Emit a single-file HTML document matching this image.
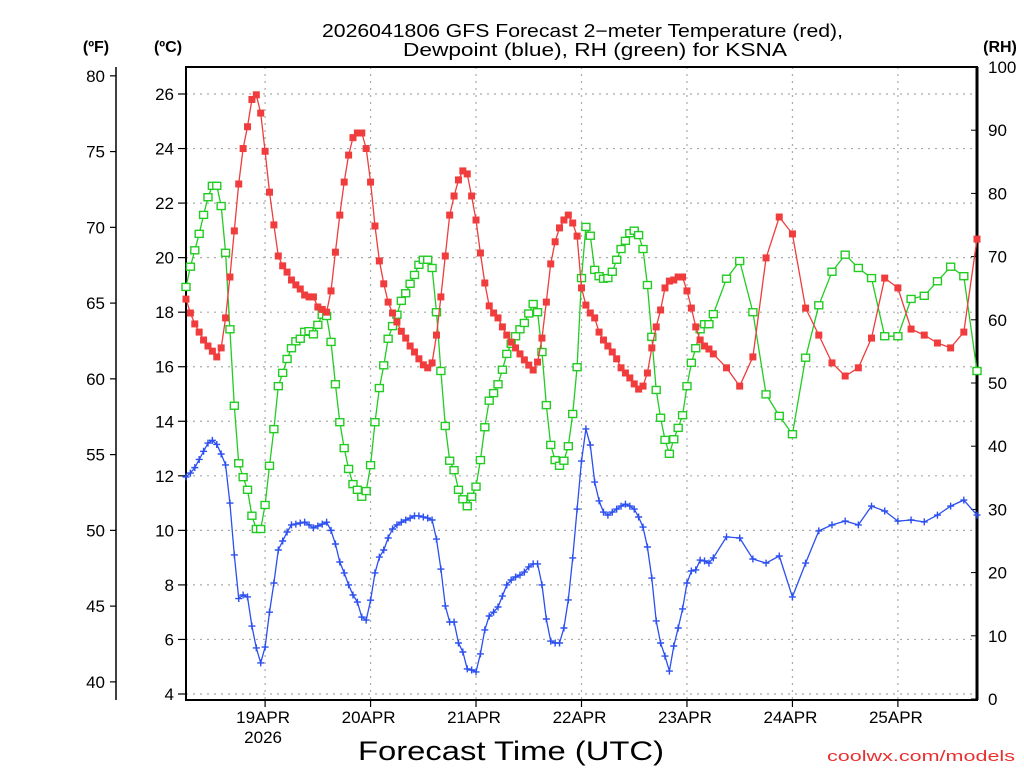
<!DOCTYPE html>
<html><head><meta charset="utf-8"><style>
html,body{margin:0;padding:0;background:#fff;}
svg{display:block;font-family:"Liberation Sans",sans-serif;}
</style></head><body>
<svg id="chart" width="1024" height="768" viewBox="0 0 1024 768" xmlns="http://www.w3.org/2000/svg">
<rect width="1024" height="768" fill="#fff"/>
<text x="322" y="37" font-size="18" textLength="521" lengthAdjust="spacingAndGlyphs">2026041806 GFS Forecast 2−meter Temperature (red),</text>
<text x="403" y="56" font-size="18" textLength="384" lengthAdjust="spacingAndGlyphs">Dewpoint (blue), RH (green) for KSNA</text>
<text x="96" y="52" font-size="16" font-weight="bold" text-anchor="middle">(ºF)</text>
<text x="168" y="52" font-size="16" font-weight="bold" text-anchor="middle">(ºC)</text>
<text x="1000" y="52" font-size="16" font-weight="bold" text-anchor="middle">(RH)</text>
<g id="grid"></g>
<g id="axes"></g>
<g id="series"></g>
<text x="358" y="760" font-size="27" textLength="306" lengthAdjust="spacingAndGlyphs">Forecast Time (UTC)</text>
<text x="827" y="761" font-size="15" fill="#e83030" textLength="188" lengthAdjust="spacingAndGlyphs">coolwx.com/models</text>
</svg>
<script>
const tempHourly = [18.48,17.97,17.57,17.27,16.98,16.76,16.57,16.36,16.69,17.79,19.29,20.98,22.7,24.0,24.8,25.8,25.97,25.3,23.9,22.4,21.2,20.06,19.7,19.47,19.18,19.0,18.85,18.63,18.56,18.56,18.19,18.1,18.0,18.78,20.2,21.56,22.77,23.76,24.4,24.57,24.57,24.0,22.77,21.16,19.88,19.04,18.37,17.97,17.64,17.3,17.05,16.76,16.54,16.29,16.07,15.96,16.14,17.16,18.56,20.06,21.56,22.26,22.85,23.18,23.07,22.26,21.38,20.17,19.07,18.23,17.97,17.79,17.46,17.16,16.9,16.69,16.47,16.25,16.06,15.88,16.17,17.05,18.37,19.77,20.58,21.09,21.38,21.56,21.27,20.79,18.89,18.26,17.97,17.79,17.27,16.98,16.76,16.54,16.29,15.96,15.77,15.59,15.37,15.18,15.29,15.77,16.69,17.46,18.08,18.89,19.14,19.18,19.29,19.29,18.78,18.15,17.46,16.98,16.76,16.65,16.47];
const temp3hr = [15.96,15.29,16.36,19.99,21.49,20.87,18.15,17.16,16.14,15.66,15.96,17.05,19.25,18.89,17.38,17.16,16.87,16.69,17.27,20.68];
const dewHourly = [11.96,12.1,12.3,12.6,12.9,13.2,13.3,13.15,12.8,12.4,11.0,9.1,7.5,7.63,7.56,6.49,5.69,5.14,5.72,7.0,8.07,9.28,9.61,9.94,10.2,10.23,10.27,10.3,10.2,10.09,10.16,10.23,10.3,10.0,9.5,8.84,8.44,8.0,7.63,7.37,6.82,6.71,7.44,8.44,9.02,9.28,9.72,10.05,10.2,10.3,10.38,10.45,10.53,10.53,10.49,10.45,10.38,9.68,8.58,7.23,6.64,6.64,5.87,5.54,4.92,4.88,4.81,5.47,6.35,6.86,7.0,7.19,7.59,8.0,8.18,8.29,8.36,8.47,8.66,8.77,8.77,8.0,6.75,5.94,5.87,5.87,6.42,7.45,8.99,10.78,12.54,13.72,13.13,11.77,11.08,10.67,10.56,10.67,10.78,10.89,10.96,10.89,10.78,10.49,10.12,9.39,8.25,6.68,5.87,5.39,4.84,5.76,6.42,7.12,8.07,8.51,8.55,8.91,8.88,8.80,8.99];
const dew3hr = [9.76,9.72,8.95,8.80,9.06,7.56,8.80,9.98,10.2,10.34,10.2,10.89,10.71,10.34,10.38,10.31,10.56,10.89,11.11,10.56];
const rhHourly = [65.2,68.4,71.0,73.6,76.6,79.4,81.2,81.2,78.0,70.6,58.5,46.4,37.3,35.1,33.1,29.0,26.9,26.9,30.7,36.9,42.7,49.5,51.6,53.8,55.5,56.6,57.0,58.1,58.2,57.7,59.2,60.8,60.6,56.5,49.8,43.8,39.7,36.4,34.0,33.1,32.0,32.9,37.0,43.8,49.2,52.8,57.0,59.0,60.8,63.0,64.2,65.7,67.1,68.7,69.5,69.5,68.2,61.2,51.9,43.2,37.7,36.2,33.1,31.6,30.5,32.0,33.6,37.8,43.0,47.2,48.4,49.8,52.1,54.6,56.2,57.4,58.5,59.5,61.0,62.5,61.2,54.9,46.5,40.2,37.8,36.9,37.7,40.0,45.1,52.5,66.6,74.7,73.3,67.9,66.9,66.5,66.6,67.6,69.5,71.2,72.5,73.7,74.1,73.4,71.2,65.5,57.3,48.9,44.5,41.0,38.8,41.1,42.9,44.9,49.5,53.2,55.5,58.5,59.3,59.3,60.9];
const rh3hr = [66.5,69.3,61.2,48.2,44.8,41.9,54.0,62.3,67.6,70.3,68.2,66.6,57.4,57.4,63.3,63.8,66.1,68.4,66.9,51.9];
const dayLabels = ["19APR","20APR","21APR","22APR","23APR","24APR","25APR"];
const celsiusTicks = [4,6,8,10,12,14,16,18,20,22,24,26];
const fahrenheitTicks = [40,45,50,55,60,65,70,75,80];
const rhTicks = [0,10,20,30,40,50,60,70,80,90,100];

const NS="http://www.w3.org/2000/svg";
const L=186,R=977,T=67,B=700;
const hourMax=180;
function xScale(h){return L+(R-L)*h/hourMax;}
function yC(c){return 694-(c-4)*(600/22);}
function yRH(r){return 699-r*(632/100);}
function yF(f){return yC((f-32)*5/9);}
function mk(tag,attrs,parent){const e=document.createElementNS(NS,tag);for(const k in attrs)e.setAttribute(k,attrs[k]);parent.appendChild(e);return e;}
const grid=document.getElementById('grid'),axes=document.getElementById('axes'),series=document.getElementById('series');

function hours(nh,n3){const a=[];for(let i=0;i<nh;i++)a.push(i);const last=nh-1;for(let j=1;j<=n3;j++)a.push(last+3*j);return a;}

celsiusTicks.forEach(c=>{const y=yC(c);
 const g=mk('line',{x1:L,x2:R,y1:y,y2:y,stroke:'#aaa','stroke-width':1.2,'stroke-dasharray':'2,5'},grid);
 
 const t=mk('line',{x1:L-8,x2:L,y1:y,y2:y,stroke:'#000','stroke-width':1.2},axes);
 
 const tx=mk('text',{x:L-12,y:y+6,'font-size':17,'text-anchor':'end'},axes);tx.textContent=c;
 
});
dayLabels.forEach((d,i)=>{const x=xScale(18+24*i);
 const g=mk('line',{x1:x,x2:x,y1:T,y2:B,stroke:'#aaa','stroke-width':1.2,'stroke-dasharray':'2,5'},grid);
 
 const t=mk('line',{x1:x,x2:x,y1:B,y2:B+7,stroke:'#000','stroke-width':1.2},axes);
 
 const tx=mk('text',{x:x-2,y:723,'font-size':17,'text-anchor':'middle'},axes);tx.textContent=d;
 
});
const yr=mk('text',{x:xScale(18)-2,y:743,'font-size':17,'text-anchor':'middle'},axes);yr.textContent='2026';


const fr=mk('rect',{x:L,y:T,width:R-L,height:B-T,fill:'none',stroke:'#000','stroke-width':2},axes);

const rax=mk('line',{x1:R,x2:R,y1:T,y2:B,stroke:'#000','stroke-width':3},axes);

rhTicks.forEach(r=>{const y=yRH(r);
 const t=mk('line',{x1:R-6,x2:R,y1:y,y2:y,stroke:'#000','stroke-width':1},axes);
 
 const tx=mk('text',{x:988,y:y+6,'font-size':17},axes);tx.textContent=r;
 
});
const fax=mk('line',{x1:116,x2:116,y1:67,y2:700,stroke:'#000','stroke-width':1.5},axes);

fahrenheitTicks.forEach(f=>{const y=yF(f);
 const t=mk('line',{x1:110,x2:116,y1:y,y2:y,stroke:'#000','stroke-width':1.2},axes);
 
 const tx=mk('text',{x:105,y:y+6,'font-size':17,'text-anchor':'end'},axes);tx.textContent=f;
 
});

function drawSeries(vals,yfn,color,marker,name){
 const hs=hours(121,20);
 const pts=vals.map((v,i)=>[xScale(hs[i]),yfn(v)]);
 const pl=mk('polyline',{points:pts.map(p=>p[0].toFixed(1)+','+p[1].toFixed(1)).join(' '),fill:'none',stroke:color,'stroke-width':1.3},series);
 
 pts.forEach(p=>{let m;
  if(marker==='fill'){m=mk('rect',{x:p[0]-3.5,y:p[1]-3.5,width:7,height:7,fill:color},series);}
  else if(marker==='open'){m=mk('rect',{x:p[0]-4,y:p[1]-3.5,width:8,height:7,fill:'#fff',stroke:color,'stroke-width':1.4},series);}
  else {m=mk('path',{d:`M${p[0]-3.5},${p[1]}h7M${p[0]},${p[1]-3.5}v7`,stroke:color,'stroke-width':1.4,fill:'none'},series);}
  
 });
}
drawSeries(rhHourly.concat(rh3hr),yRH,'#22cc22','open','rh');
drawSeries(dewHourly.concat(dew3hr),yC,'#2b4ff0','plus','dewpoint');
drawSeries(tempHourly.concat(temp3hr),yC,'#f03c3c','fill','temperature');
</script>
</body></html>
